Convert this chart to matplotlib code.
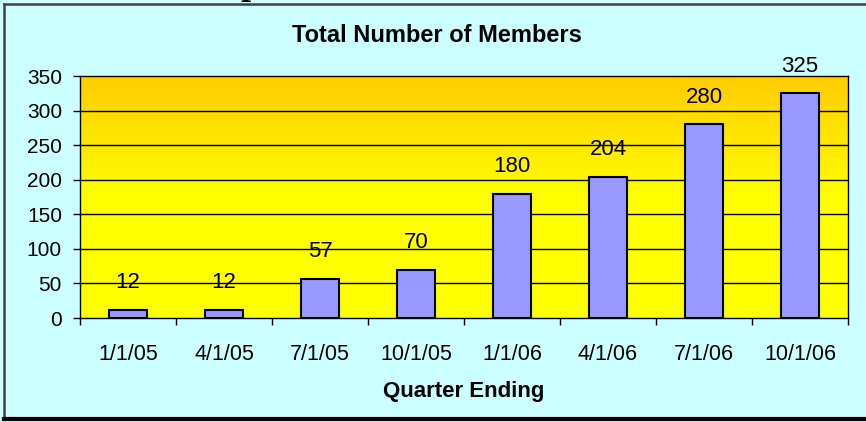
import matplotlib

matplotlib.use("Agg")
import matplotlib.pyplot as plt
import numpy as np
from matplotlib.colors import LinearSegmentedColormap
from matplotlib.lines import Line2D

# Data
quarters = ["1/1/05", "4/1/05", "7/1/05", "10/1/05", "1/1/06", "4/1/06", "7/1/06", "10/1/06"]
members = [12, 12, 57, 70, 180, 204, 280, 325]
y_ticks = [0, 50, 100, 150, 200, 250, 300, 350]

W, H = 866, 422
plt.rcParams["font.family"] = ["Liberation Sans", "DejaVu Sans"]

fig = plt.figure(figsize=(W / 100, H / 100), dpi=100)
fig.patch.set_facecolor("#CCFFFF")

ax = fig.add_axes([80 / W, 1 - 318 / H, 768 / W, 242 / H])
x = np.arange(len(quarters))

# gradient plot area: orange at top, yellow at bottom
cmap = LinearSegmentedColormap.from_list("ey", ["#FFFF00", "#FFFF00", "#FFCC00"])
grad = np.linspace(0, 1, 256).reshape(-1, 1)
ax.imshow(grad, cmap=cmap, origin="lower", aspect="auto",
          extent=[-0.5, len(quarters) - 0.5, 0, 350], zorder=0)

for yv in y_ticks[1:-1]:
    ax.axhline(yv, color="black", lw=1.0, zorder=1)

ax.bar(x, members, width=0.4, color="#9999FF", edgecolor="black", linewidth=1.5, zorder=3)

for xi, v in zip(x, members):
    ax.annotate(str(v), (xi, v), xytext=(0, 27), textcoords="offset pixels",
                ha="center", va="center", fontsize=16, zorder=4, annotation_clip=False)

ax.set_xlim(-0.5, len(quarters) - 0.5)
ax.set_ylim(0, 350)
ax.set_yticks(y_ticks)
ax.set_xticks(x)
ax.set_xticklabels(quarters)
ax.set_xticks(np.arange(len(quarters) + 1) - 0.5, minor=True)
ax.tick_params(axis="x", which="major", length=0, pad=19, labelsize=15.5)
ax.tick_params(axis="x", which="minor", length=5, width=1, direction="out")
ax.tick_params(axis="y", length=5, width=1, direction="out", pad=8, labelsize=15)
for s in ax.spines.values():
    s.set_color("black")
    s.set_linewidth(1.0)

fig.text(437 / W, 1 - 36 / H, "Total Number of Members", ha="center", va="center",
         fontsize=17, fontweight="bold")
fig.text(464 / W, 1 - 391 / H, "Quarter Ending", ha="center", va="center",
         fontsize=16, fontweight="bold")

# fragment of heading above the chart frame
fig.text(251 / W, 1 + 6 / H, "p", ha="center", va="baseline", fontsize=26,
         fontweight="bold", family=["Liberation Serif"])

# chart frame
fig.add_artist(Line2D([4 / W, 1], [1 - 4 / H, 1 - 4 / H], color="#404040", lw=1.8,
                      transform=fig.transFigure))
fig.add_artist(Line2D([4 / W, 4 / W], [1 - 4 / H, 1 - 419 / H], color="#404040", lw=1.8,
                      transform=fig.transFigure))
fig.add_artist(Line2D([4 / W, 1], [1 - 419 / H, 1 - 419 / H], color="black", lw=3,
                      transform=fig.transFigure))

fig.savefig("out.png", dpi=100, facecolor=fig.get_facecolor())
